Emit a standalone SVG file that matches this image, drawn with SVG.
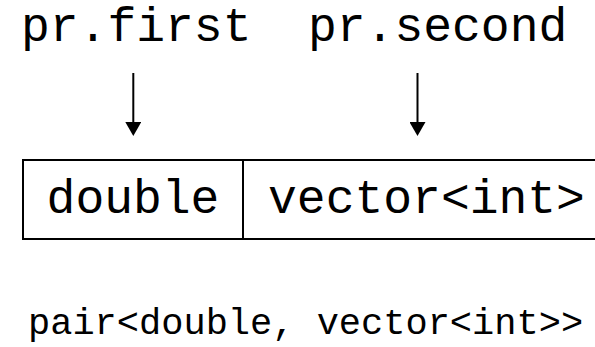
<svg xmlns="http://www.w3.org/2000/svg" width="595" height="347" viewBox="0 0 595 347">
  <style>
    .mono { font-family: "Liberation Mono", "Courier New", monospace; fill: #000; }
    .big { font-size: 48px; }
    .small { font-size: 37px; }
    .cell { fill: #fff; stroke: #000; stroke-width: 2; }
    .conn { stroke: #000; stroke-width: 2; fill: none; }
  </style>
  <defs>
    <marker id="arrow" viewBox="0 0 14 16" refX="0" refY="8" markerWidth="14" markerHeight="16" markerUnits="userSpaceOnUse" orient="auto">
      <path d="M0,0 L14,8 L0,16 Z" fill="#000"/>
    </marker>
  </defs>
  <rect width="595" height="347" fill="#fff"/>

  <g id="label-first">
    <text class="mono big" x="21" y="41">pr.first</text>
  </g>
  <g id="label-second">
    <text class="mono big" x="308" y="41">pr.second</text>
  </g>

  <g id="cell-double">
    <rect class="cell" x="23" y="160" width="220" height="79"/>
    <text class="mono big" x="133" y="213" text-anchor="middle">double</text>
  </g>
  <g id="cell-vector">
    <rect class="cell" x="243" y="160" width="367" height="79"/>
    <text class="mono big" x="426.5" y="213" text-anchor="middle">vector&lt;int&gt;</text>
  </g>

  <g id="caption">
    <text class="mono small" x="28" y="334">pair&lt;double, vector&lt;int&gt;&gt;</text>
  </g>

  <g id="connectors">
    <line class="conn" x1="133.3" y1="73" x2="133.3" y2="122" marker-end="url(#arrow)"/>
    <line class="conn" x1="417.5" y1="73" x2="417.5" y2="122" marker-end="url(#arrow)"/>
  </g>
</svg>
